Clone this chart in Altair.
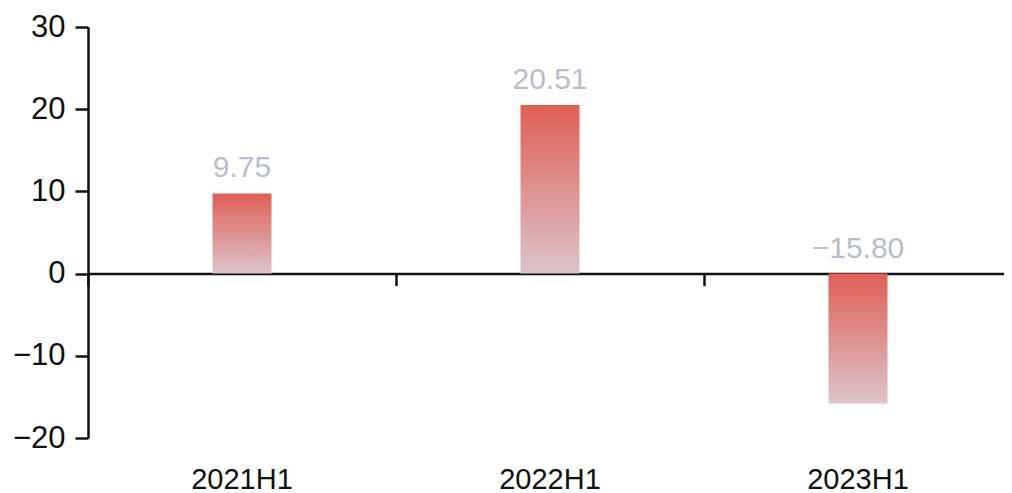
import altair as alt
import pandas as pd

categories = ["2021H1", "2022H1", "2023H1"]
values = [9.75, 20.51, -15.80]
y_ticks = [-20, -10, 0, 10, 20, 30]

df = pd.DataFrame({"period": categories, "value": values})

FONT = "Liberation Sans"

gradient = alt.Gradient(
    gradient="linear",
    stops=[
        alt.GradientStop(color="#df5f56", offset=0),
        alt.GradientStop(color="#dcc4cb", offset=1),
    ],
    x1=0, x2=0, y1=0, y2=1,
)

x_scale = alt.Scale(paddingInner=0, paddingOuter=0, range=[0, 924])
y_scale = alt.Scale(domain=[-20, 30], nice=False, zero=False)

y_axis = alt.Axis(values=y_ticks, grid=False, domainColor="#111111",
                  domainWidth=2.5, tickColor="#111111", tickWidth=2.5,
                  tickSize=13, labelFontSize=31, labelFont=FONT,
                  labelColor="#111111", labelPadding=10, title=None)

bars = alt.Chart(df).mark_bar(color=gradient, width=59).encode(
    x=alt.X("period:N", sort=categories, scale=x_scale, title=None,
            axis=alt.Axis(orient="bottom", domain=False, ticks=False, labelAngle=0,
                          labelFontSize=29, labelFont=FONT, labelColor="#111111",
                          labelPadding=27)),
    y=alt.Y("value:Q", scale=y_scale, title=None, axis=y_axis),
)

labels = alt.Chart(df).transform_calculate(
    pos="max(datum.value, 0)"
).mark_text(
    fontSize=30, font=FONT, color="#b9bdc9", baseline="alphabetic", dy=-16
).encode(
    x=alt.X("period:N", sort=categories, scale=x_scale, title=None,
            axis=alt.Axis(orient="bottom", offset=-164.4, labels=False, ticks=True,
                          bandPosition=0, tickSize=12, tickWidth=2.5,
                          tickColor="#111111", domain=True, domainColor="#111111",
                          domainWidth=2.5)),
    y=alt.Y("pos:Q", scale=y_scale, title=None, axis=y_axis),
    text=alt.Text("value:Q", format=".2f"),
)

chart = alt.layer(bars, labels).resolve_axis(x="independent").properties(
    width=916,
    height=411,
    background="white",
    autosize=alt.AutoSizeParams(type="none"),
    padding={"left": 80, "top": 19, "right": 0, "bottom": 55},
).configure_view(stroke="transparent").configure_axis(grid=False)

chart.save("out.html", embed_options={"renderer": "svg", "actions": False})
